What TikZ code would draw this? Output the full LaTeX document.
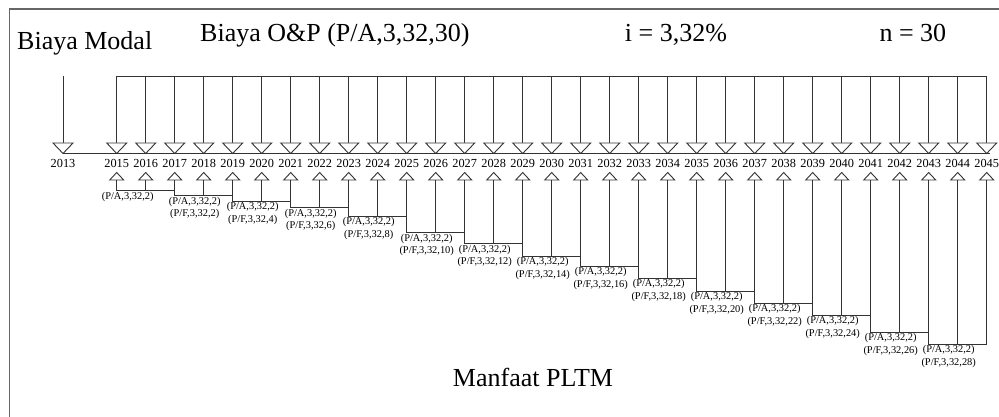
\documentclass[tikz,border=0pt]{standalone}
\usepackage{fontspec}
\setmainfont{Liberation Serif}
\begin{document}
\begin{tikzpicture}[x=1pt,y=-1pt,
  ln/.style={line width=0.9pt, draw=black!80},
  frameline/.style={line width=1.3pt, draw=black!60},
  tri/.style={line width=0.9pt, draw=black!80, fill=white},
  yearlbl/.style={font=\fontsize{12.3}{14}\selectfont, inner sep=0pt},
  factlbl/.style={font=\fontsize{10.4}{12.3}\selectfont, inner sep=0pt, align=center, anchor=north},
  ttl/.style={font=\fontsize{26}{30}\selectfont, inner sep=0pt, anchor=base west}]
\useasboundingbox (0,0) rectangle (999,417);
% frame
\coordinate (fbl) at (9.5,418);
\coordinate (ftl) at (9.5,9);
\coordinate (ftr) at (1000,9);
\draw[frameline] (fbl) -- (ftl) -- (ftr);
% titles
\node[ttl] (tmodal) at (17,50) {Biaya Modal};
\node[ttl] (top) at (200,41.7) {Biaya O\&P (P/A,3,32,30)};
\node[ttl] (ti) at (624.7,41.7) {i = 3,32\%};
\node[ttl] (tn) at (879.3,41.7) {n = 30};
\node[font=\fontsize{26}{30}\selectfont, inner sep=0pt, anchor=base] (tman) at (533,386) {Manfaat PLTM};
% 2013 capital cost
\coordinate (top2013) at (63,76);
\coordinate (dt2013) at (63,143);
\draw[ln] (top2013) -- (dt2013);
\draw[tri] (dt2013) ++(-10,0) -- ++(20,0) -- ++(-10,10.5) -- cycle;
\node[yearlbl] (y2013) at (63,163) {2013};
% O&P bar
\coordinate (bar0) at (116.7,76);
\coordinate (bar1) at (986.7,76);
\draw[ln] (bar0) -- (bar1);
\foreach \yr in {2015,...,2045}{
  \pgfmathsetmacro\xx{116.7+29*(\yr-2015)}
  \coordinate (top\yr) at (\xx,76);
  \coordinate (dt\yr) at (\xx,143);
  \coordinate (ut\yr) at (\xx,180);
  \draw[ln] (top\yr) -- (dt\yr);
  \draw[tri] (dt\yr) ++(-10,0) -- ++(20,0) -- ++(-10,10.5) -- cycle;
  \draw[tri] (ut\yr) ++(-7,0) -- ++(14,0) -- ++(-7,-7.5) -- cycle;
  \node[yearlbl] (y\yr) at (\xx,163) {\yr};
}
% time axis
\coordinate (ax0) at (63,153.5);
\coordinate (ax1) at (990,153.5);
\draw[ln] (ax0) -- (ax1);
% benefit brackets
\foreach \k/\L in {0/190,1/195.7,2/201,3/207.7,4/216,5/232.7,6/243.3,7/256,8/266,9/278,10/291,11/303,12/315,13/332,14/344}{
  \pgfmathtruncatemacro\a{2015+2*\k}
  \pgfmathtruncatemacro\b{\a+1}
  \pgfmathtruncatemacro\c{\a+2}
  \pgfmathtruncatemacro\pf{2*\k}
  \pgfmathsetmacro\xa{116.7+29*(\a-2015)}
  \coordinate (lev\k) at (0,\L);
  \draw[ln] (ut\a) -- (ut\a |- lev\k) -| (ut\c);
  \draw[ln] (ut\b) -- (ut\b |- lev\k);
  \ifnum\k=0
    \node[factlbl] (fa\k) at (\xa+11,\L+2) {(P/A,3,32,2)};
  \else
    \node[factlbl] (fa\k) at (\xa+20,\L+1.5) {(P/A,3,32,2)\\(P/F,3,32,\pf)};
  \fi
}
\end{tikzpicture}
\end{document}
